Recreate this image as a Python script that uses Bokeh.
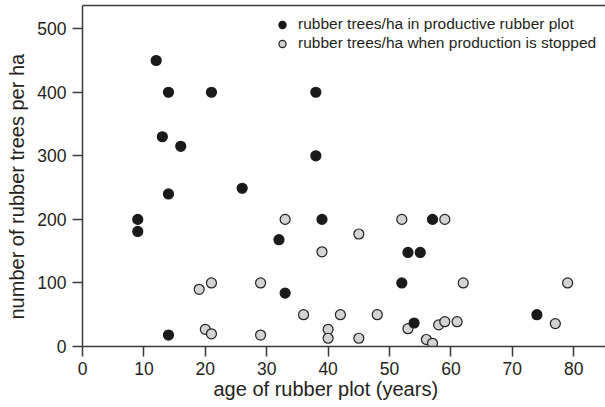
from bokeh.plotting import figure
from bokeh.models import (Range1d, LinearAxis, FixedTicker, Legend, LegendItem, Title)
from bokeh.embed import file_html
from bokeh.resources import INLINE

# productive rubber plots
prod_age = [9, 9, 12, 13, 14, 14, 14, 16, 21, 26, 32, 33, 38, 38, 39, 52, 53, 54, 55, 57, 74]
prod_trees = [200, 181, 450, 330, 400, 240, 18, 315, 400, 249, 168, 84, 400, 300, 200, 100, 148, 37, 148, 200, 50]

# when production is stopped
stop_age = [19, 20, 21, 21, 29, 29, 33, 36, 39, 40, 40, 42, 45, 45, 48, 52, 53, 56, 57, 58, 59, 59, 61, 62, 77, 79]
stop_trees = [90, 27, 100, 20, 100, 18, 200, 50, 149, 27, 13, 50, 177, 13, 50, 200, 28, 11, 5, 34, 200, 39, 39, 100, 36, 100]

x_ticks = [0, 10, 20, 30, 40, 50, 60, 70, 80]
y_ticks = [0, 100, 200, 300, 400, 500]

FONT = "Liberation Sans"
TXT = "#231f20"
AX = "#3a3a3a"

p = figure(width=605, height=407, output_backend="svg", toolbar_location=None,
           x_range=Range1d(0, 85.17), y_range=Range1d(0, 536.5),
           min_border_left=82, min_border_right=0, min_border_top=5, min_border_bottom=61)
p.outline_line_color = None
p.xgrid.visible = False
p.ygrid.visible = False
p.background_fill_color = "white"

for ax, ticks in ((p.xaxis[0], x_ticks), (p.yaxis[0], y_ticks)):
    ax.ticker = FixedTicker(ticks=ticks)
    ax.axis_line_color = AX
    ax.axis_line_width = 1.5
    ax.major_tick_line_color = AX
    ax.major_tick_line_width = 1.5
    ax.major_tick_out = 10
    ax.major_tick_in = 0
    ax.minor_tick_line_color = None
    ax.major_label_text_font = FONT
    ax.major_label_text_font_size = "17.5px"
    ax.major_label_text_color = TXT
p.xaxis[0].major_label_standoff = 5
p.yaxis[0].major_label_standoff = 6

top = LinearAxis(ticker=FixedTicker(ticks=[]), axis_line_color=AX, axis_line_width=1.5,
                 major_tick_line_color=None, minor_tick_line_color=None,
                 major_tick_out=0, major_tick_in=0, major_label_text_font_size="0px",
                 major_label_standoff=0)
p.add_layout(top, "above")

xtitle = Title(text="age of rubber plot (years)", align="left", offset=131,
               vertical_align="top", standoff=0, text_font=FONT, text_font_size="20px",
               text_font_style="normal", text_color=TXT)
ytitle = Title(text="number of rubber trees per ha", align="left", offset=27,
               vertical_align="top", standoff=9, text_font=FONT, text_font_size="20px",
               text_font_style="normal", text_color=TXT)
p.add_layout(xtitle, "below")
p.add_layout(ytitle, "left")

r_stop = p.scatter(stop_age, stop_trees, size=10, fill_color="#d3d3d3",
                   line_color="#231f20", line_width=1.2)
r_prod = p.scatter(prod_age, prod_trees, size=10, fill_color="#1a1a1a",
                   line_color="#1a1a1a", line_width=1.2)

legend = Legend(items=[
    LegendItem(label="rubber trees/ha in productive rubber plot", renderers=[r_prod]),
    LegendItem(label="rubber trees/ha when production is stopped", renderers=[r_stop]),
], location=(191, 293.5), orientation="vertical")
legend.border_line_color = None
legend.background_fill_alpha = 0
legend.padding = 0
legend.margin = 0
legend.spacing = 0
legend.glyph_width = 18
legend.glyph_height = 19
legend.label_height = 19
legend.label_standoff = 7
legend.label_text_font = FONT
legend.label_text_font_size = "15.5px"
legend.label_text_color = TXT
p.add_layout(legend, "center")

open("out.html", "w").write(file_html(p, INLINE))
